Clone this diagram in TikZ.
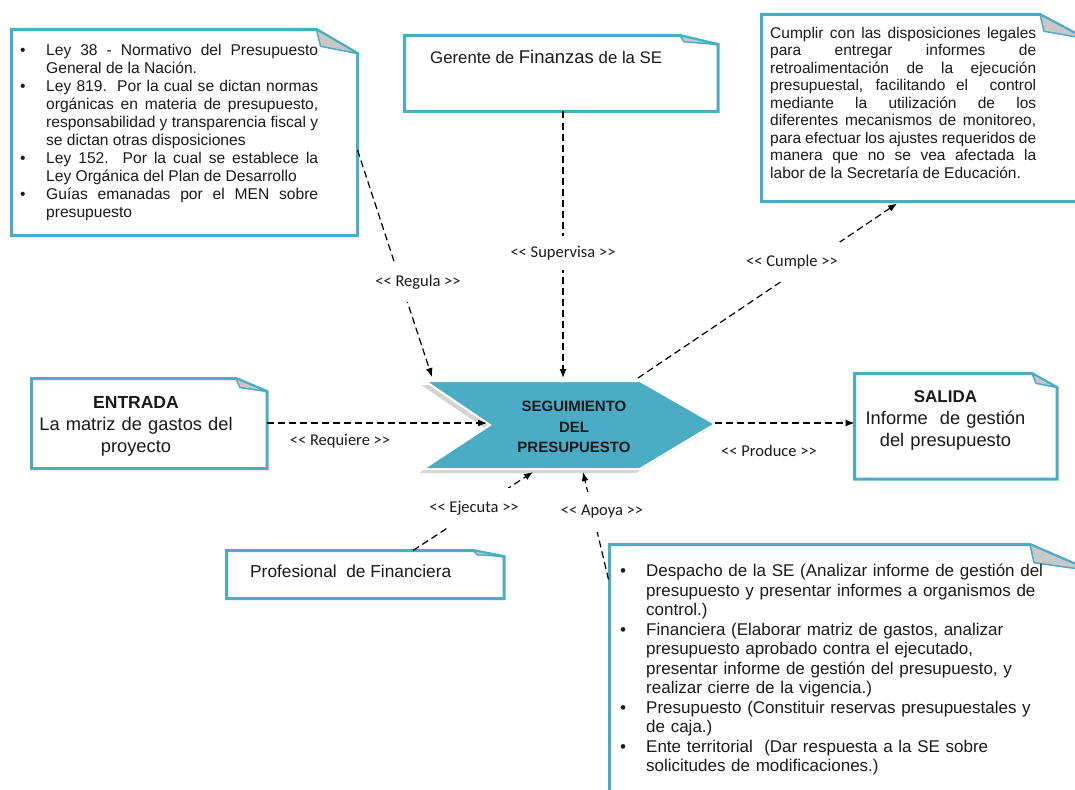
\documentclass[tikz,border=0pt]{standalone}
\usepackage{fontspec}
\setmainfont{Liberation Sans}
\newfontfamily\lblfont{Carlito}
\usetikzlibrary{arrows.meta,calc}
\definecolor{aqua}{HTML}{4BACC6}
\definecolor{foldgray}{HTML}{C8C8C8}
\definecolor{bevel}{HTML}{D4D4D4}
\definecolor{ink}{HTML}{1A1A1A}
% bullet item with hanging indent
\newcommand\bul{\leavevmode\hangindent=28pt\hangafter=1\makebox[28pt][l]{\hspace{2pt}\textbullet}\ignorespaces}
% font size, line spacing and paragraph settings for text blocks
\newcommand\setsz[2]{\fontsize{#1}{#2}\selectfont\parskip=0pt\lineskiplimit=-20pt\lineskip=0pt\tolerance=10000\hyphenpenalty=10000}
% guillemet-like double angle marks kept as two characters
\newcommand\lopen{<\kern0pt<}
\newcommand\lclose{>\kern0pt>}
% note outline with a folded top-right corner: #1 node, #2 fold width, #3 fold height
\newcommand\foldedbox[3]{%
  \filldraw[boxline] (#1.north west) -- ($(#1.north east)+(-#2,0)$) -- ($(#1.north east)+(0,#3)$)
    -- (#1.south east) -- (#1.south west) -- cycle;
  \filldraw[foldline] ($(#1.north east)+(-#2,0)$) -- ($(#1.north east)+(-#2+4,0.7*#3)$)
    -- ($(#1.north east)+(0,#3)$) -- cycle;}
\begin{document}
\begin{tikzpicture}[x=1pt,y=-1pt,
  area/.style={inner sep=0pt,outer sep=0pt,draw=none,anchor=north west},
  boxline/.style={draw=aqua,line width=3pt,fill=white,line join=miter},
  foldline/.style={draw=aqua,line width=1.5pt,fill=foldgray,line join=round},
  conn/.style={draw=black,line width=1.2pt,dash pattern=on 7pt off 4pt,-{Latex[length=9pt,width=7pt]}},
  lbl/.style={fill=white,inner xsep=2pt,inner ysep=0pt,text=ink,font=\lblfont\fontsize{16.5}{18}\selectfont},
  txt/.style={inner sep=0pt,text=ink,anchor=base west}]
\useasboundingbox (0,0) rectangle (1075,789);
\clip (0,0) rectangle (1075,789);

% ---------- note boxes ----------
\node[area,minimum width=346,minimum height=206] (tl) at (11.5,29.5) {};
\node[area,minimum width=313.5,minimum height=76] (ger) at (404.5,35.5) {};
\node[area,minimum width=323.5,minimum height=187] (tr) at (761.5,14.5) {};
\node[area,minimum width=235.5,minimum height=90] (ent) at (31.5,378.5) {};
\node[area,minimum width=202.5,minimum height=105.5] (sal) at (854.5,373.5) {};
\node[area,minimum width=277.5,minimum height=48] (prof) at (226.5,550.5) {};
\node[area,minimum width=480.5,minimum height=255.5] (br) at (609.5,544.5) {};

\foldedbox{tl}{41}{24}
\foldedbox{ger}{38}{9}
\foldedbox{tr}{45}{24}
\foldedbox{ent}{31}{13}
\foldedbox{sal}{25}{14}
\foldedbox{prof}{31}{6}
\foldedbox{br}{60}{26}

% ---------- central process chevron ----------
\coordinate (c1) at (425,381);
\coordinate (c2) at (490,425);
\coordinate (c3) at (423,469);
\coordinate (c4) at (640,469);
\coordinate (c5) at (715,424);
\coordinate (c6) at (640,381);
\fill[bevel] ([shift={(-4,4)}]c1) -- ([shift={(-4,4)}]c2) -- ([shift={(-4,4)}]c3)
  -- ([shift={(-4,4)}]c4) -- ([shift={(-4,4)}]c5) -- ([shift={(-4,4)}]c6) -- cycle;
\filldraw[fill=aqua,draw=white,line width=2pt] (c1) -- (c2) -- (c3) -- (c4) -- (c5) -- (c6) -- cycle;
\node[inner sep=0pt,anchor=base,text width=150,align=center,text=ink,
      font=\bfseries\setsz{15}{20.3}] (seg) at (574,411.7)
  {SEGUIMIENTO\\DEL\\PRESUPUESTO};

% attachment points on the chevron
\coordinate (regIn) at (432,377);
\coordinate (supIn) at (563,378);
\coordinate (cumOut) at (638,378);
\coordinate (reqIn) at (487,423);
\coordinate (proOut) at (715,423);
\coordinate (ejeIn) at (533,472);
\coordinate (apoIn) at (583,472);

% ---------- box texts ----------
\node[txt,text width=300,align=justify,font=\setsz{15.6}{18}] (tltext) at (18,56)
  {\bul Ley 38 - Normativo del Presupuesto\linebreak General de la Nación.\par
   \bul Ley 819.\ \ Por la cual se dictan normas\linebreak orgánicas en materia de presupuesto,\linebreak responsabilidad y transparencia fiscal y\linebreak se dictan otras disposiciones\par
   \bul Ley 152.\ \ Por la cual se establece la\linebreak Ley Orgánica del Plan de Desarrollo\par
   \bul Guías emanadas por el MEN sobre\linebreak presupuesto\par};

\node[txt,font=\setsz{16.8}{20}] (gertext) at (430,63.3)
  {Gerente de {\fontsize{18.5}{20}\selectfont Finanzas} de la SE};

\node[txt,text width=266,align=justify,font=\setsz{15.5}{17.5}] (trtext) at (770,38.3)
  {Cumplir con las disposiciones legales\linebreak para entregar informes de\linebreak
   retroalimentación de la ejecución\linebreak presupuestal, facilitando el\ \ control\linebreak
   mediante la utilización de los\linebreak diferentes mecanismos de monitoreo,\linebreak
   para efectuar los ajustes requeridos de\linebreak manera que no se vea afectada la\linebreak
   labor de la Secretaría de Educación.};

\node[inner sep=0pt,anchor=base,text width=230,align=center,text=ink,font=\setsz{18.3}{22}] (enttext) at (136,408)
  {{\bfseries\fontsize{17.5}{22}\selectfont ENTRADA}\\La matriz de gastos del\\proyecto};

\node[inner sep=0pt,anchor=base,text width=200,align=center,text=ink,font=\setsz{18.3}{22}] (saltext) at (945.5,402.7)
  {{\bfseries\fontsize{17}{22}\selectfont SALIDA}\\Informe\ \ de gestión\\del presupuesto};

\node[txt,font=\setsz{17.3}{20}] (proftext) at (250,577)
  {Profesional\ \ de Financiera};

\node[txt,text width=440,align=left,font={\setsz{17}{19.5}\spaceskip=0.22em plus 0.1em minus 0.05em}] (brtext) at (618,576.7)
  {\bul Despacho de la SE (Analizar informe de gestión del\newline presupuesto y presentar informes a organismos de\newline control.)\par
   \bul Financiera (Elaborar matriz de gastos, analizar\newline presupuesto aprobado contra el ejecutado,\newline presentar informe de gestión del presupuesto, y\newline realizar cierre de la vigencia.)\par
   \bul Presupuesto (Constituir reservas presupuestales y\newline de caja.)\par
   \bul Ente territorial\ \ (Dar respuesta a la SE sobre\newline solicitudes de modificaciones.)\par};

% ---------- connectors ----------
\draw[conn] ($(tl.north east)+(0,120.5)$) -- (regIn);
\draw[conn] ($(ger.south west)+(158.5,0)$) -- (supIn);
\draw[conn] (cumOut) -- ($(tr.south west)+(135.5,2)$);
\draw[conn] ($(ent.north east)+(0,44.5)$) -- (reqIn);
\draw[conn] (proOut) -- ($(sal.north west)+(0,49.5)$);
\draw[conn] ($(prof.north west)+(186.5,0)$) -- (ejeIn);
\draw[conn] ($(br.north west)+(-1,35)$) -- (apoIn);

% ---------- connector labels ----------
\node[lbl,minimum height=40] (lreg) at (418,282) {\lopen{} Regula \lclose};
\node[lbl,minimum height=34] (lsup) at (563,253) {\lopen{} Supervisa \lclose};
\node[lbl,minimum height=40] (lcum) at (792,262) {\lopen{} Cumple \lclose};
\node[lbl,fill=none] (lreq) at (340,441) {\lopen{} Requiere \lclose};
\node[lbl,fill=none] (lpro) at (769,451) {\lopen{} Produce \lclose};
\node[lbl,minimum height=40] (leje) at (474,508) {\lopen{} Ejecuta \lclose};
\node[lbl,minimum height=40] (lapo) at (602,512) {\lopen{} Apoya \lclose};
\end{tikzpicture}
\end{document}
